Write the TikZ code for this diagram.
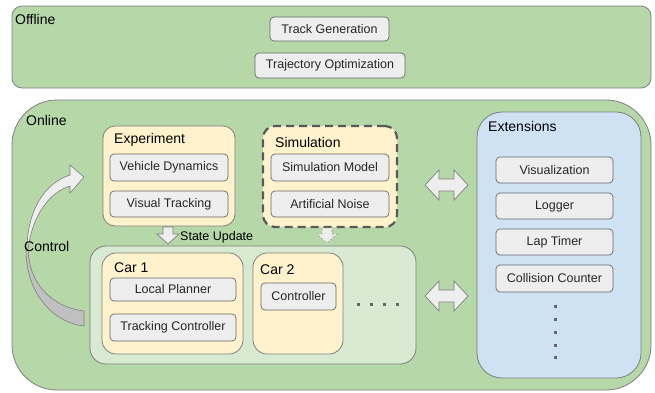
\documentclass[tikz,border=0pt]{standalone}
\usepackage{fontspec}
\setmainfont{Liberation Sans}
\definecolor{outergreen}{HTML}{B6D7A8}
\definecolor{lightgreen}{HTML}{D9EAD3}
\definecolor{lightyellow}{HTML}{FFF2CC}
\definecolor{lightblue}{HTML}{CFE2F3}
\definecolor{boxgray}{HTML}{EEEEEE}
\definecolor{linegray}{HTML}{7F7F7F}
\definecolor{boxline}{HTML}{666666}
\definecolor{darkdash}{HTML}{595959}
\definecolor{ribbon}{HTML}{C0C0C0}
\begin{document}
\begin{tikzpicture}[x=1pt,y=-1pt,
  container/.style={draw=linegray, line width=0.8pt, inner sep=0pt, outer sep=0pt},
  smallbox/.style={draw=boxline, fill=boxgray, line width=0.7pt, rounded corners=4pt,
     inner sep=0pt, font=\fontsize{12.5}{14}\selectfont, text=black!85},
  title/.style={anchor=west, inner sep=0pt, font=\fontsize{14}{16}\selectfont},
  blockarrow/.style={draw=linegray, fill=boxgray, line width=0.7pt, line join=miter},
  dot/.style={fill=boxline, draw=none}]
\useasboundingbox (0,0) rectangle (655,392);

% containers
\node[container, fill=outergreen, rounded corners=10pt, minimum width=639pt, minimum height=82pt] (offline) at (331.5,47) {};
\node[container, fill=outergreen, rounded corners=45pt, minimum width=639pt, minimum height=290pt] (online) at (331.5,245) {};
\node[container, fill=lightyellow, rounded corners=12pt, minimum width=132pt, minimum height=100pt] (exp) at (169,176) {};
\node[draw=darkdash, line width=2.2pt, dash pattern=on 8pt off 5pt, fill=lightyellow, rounded corners=12pt, inner sep=0pt, minimum width=134pt, minimum height=101pt] (sim) at (330,176.5) {};
\node[container, fill=lightgreen, rounded corners=16pt, minimum width=326pt, minimum height=118pt] (cars) at (253,305) {};
\node[container, fill=lightyellow, rounded corners=14pt, minimum width=141pt, minimum height=101pt] (car1) at (172.5,303.5) {};
\node[container, fill=lightyellow, rounded corners=14pt, minimum width=90pt, minimum height=101pt] (car2) at (298,303.5) {};
\node[container, fill=lightblue, rounded corners=25pt, minimum width=164pt, minimum height=266pt] (ext) at (559,245) {};

% titles
\node[title] (tOff) at (15,19) {Offline};
\node[title] (tOn) at (26,120) {Online};
\node[title] (tExp) at (114,140) {Experiment};
\node[title] (tSim) at (275,142) {Simulation};
\node[title] (tCar1) at (114,268) {Car 1};
\node[title] (tCar2) at (260,270) {Car 2};
\node[title] (tExt) at (488,126) {Extensions};

% small boxes
\node[smallbox, minimum width=119pt, minimum height=24pt] (track) at (329.5,29) {Track Generation};
\node[smallbox, minimum width=150pt, minimum height=25pt] (traj) at (330,65.5) {Trajectory Optimization};
\node[smallbox, minimum width=118pt, minimum height=27pt] (vdyn) at (169,167.5) {Vehicle Dynamics};
\node[smallbox, minimum width=118pt, minimum height=26pt] (vtrack) at (169,204) {Visual Tracking};
\node[smallbox, minimum width=118pt, minimum height=27pt] (smodel) at (330,167.5) {Simulation Model};
\node[smallbox, minimum width=118pt, minimum height=26pt] (noise) at (330,204) {Artificial Noise};
\node[smallbox, minimum width=126pt, minimum height=23pt] (lplan) at (173,289.5) {Local Planner};
\node[smallbox, minimum width=126pt, minimum height=27pt] (tctrl) at (173,327.5) {Tracking Controller};
\node[smallbox, minimum width=75pt, minimum height=27pt] (ctrl) at (298.5,296.5) {Controller};
\node[smallbox, minimum width=117pt, minimum height=26pt] (vis) at (554.5,170) {Visualization};
\node[smallbox, minimum width=117pt, minimum height=26pt] (log) at (554.5,206) {Logger};
\node[smallbox, minimum width=117pt, minimum height=26pt] (lap) at (554.5,242) {Lap Timer};
\node[smallbox, minimum width=117pt, minimum height=27pt] (coll) at (554.5,278.5) {Collision Counter};

% down arrows
\draw[blockarrow] (163,227) -- (173,227) -- (173,234) -- (179,234) -- (168,244) -- (157,234) -- (163,234) -- cycle;
\node[anchor=west, inner sep=0pt, font=\fontsize{12.5}{14}\selectfont] (supd) at (180,237) {State Update};
\draw[blockarrow, draw=linegray!70, dash pattern=on 2pt off 2pt] (322,228) -- (332,228) -- (332,234) -- (337,234) -- (327,243) -- (317,234) -- (322,234) -- cycle;

% double arrows
\draw[blockarrow] (425,185) -- (439,170) -- (439,179) -- (454,179) -- (454,170) -- (468,185) -- (454,200) -- (454,191) -- (439,191) -- (439,200) -- cycle;
\draw[blockarrow] (425,296) -- (439,281) -- (439,290) -- (454,290) -- (454,281) -- (468,296) -- (454,311) -- (454,302) -- (439,302) -- (439,311) -- cycle;

% control curved arrow
\draw[draw=linegray, fill=ribbon, line width=0.6pt, line join=round] (26,250) .. controls (26,295) and (55,323) .. (84,326) -- (84,311) .. controls (58,308) and (30,290) .. (28,250) -- cycle;
\draw[draw=linegray, fill=boxgray, line width=0.6pt, line join=miter] (27,250) .. controls (27,210) and (45,183) .. (70,175) -- (70,165) -- (84,177) -- (70,193) -- (70,186) .. controls (50,192) and (32,215) .. (28,250) -- cycle;
\node[title] (tCtrl) at (24,246) {Control};

% dots
\foreach \x in {358,371,384,397} \fill[dot] (\x-1.5,302.5) rectangle (\x+1.5,305.5);
\foreach \y in {306,319,332,345,357} \fill[dot] (555-1.5,\y-1.5) rectangle (555+1.5,\y+1.5);
\end{tikzpicture}
\end{document}
